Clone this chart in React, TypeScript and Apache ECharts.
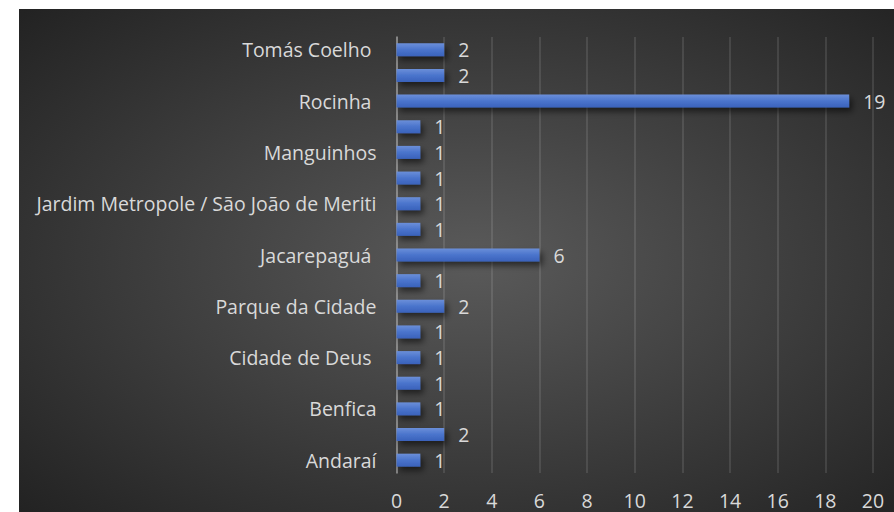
import React, { useEffect, useRef } from "react";
import * as echarts from "echarts";

const categories: string[] = [
  "Andaraí",
  "(oculto 1)",
  "Benfica",
  "(oculto 2)",
  "Cidade de Deus ",
  "(oculto 3)",
  "Parque da Cidade",
  "(oculto 4)",
  "Jacarepaguá ",
  "(oculto 5)",
  "Jardim Metropole / São João de Meriti",
  "(oculto 6)",
  "Manguinhos",
  "(oculto 7)",
  "Rocinha ",
  "(oculto 8)",
  "Tomás Coelho ",
];

const values: number[] = [1, 2, 1, 1, 1, 1, 2, 1, 6, 1, 1, 1, 1, 1, 19, 2, 2];

const xTicks = { min: 0, max: 20, interval: 2 };

export default function App() {
  const ref = useRef<HTMLDivElement>(null);
  useEffect(() => {
    if (!ref.current) return;
    const chart = echarts.init(ref.current, null, { renderer: "svg" });
    const font = "'Open Sans', sans-serif";
    const fs = 19.5;
    chart.setOption({
      animation: false,
      backgroundColor: {
        type: "radial",
        x: 0.52,
        y: 0.5,
        r: 0.75,
        colorStops: [
          { offset: 0, color: "#5a5a5a" },
          { offset: 1, color: "#202020" },
        ],
      },
      grid: { left: 377.5, right: 21, top: 28, bottom: 39, containLabel: false },
      xAxis: {
        type: "value",
        min: xTicks.min,
        max: xTicks.max,
        interval: xTicks.interval,
        axisLine: { show: false },
        axisTick: { show: false },
        splitLine: { show: true, lineStyle: { color: "rgba(255,255,255,0.14)", width: 1.5 } },
        axisLabel: { color: "#d9d9d9", fontSize: fs, fontFamily: font, margin: 17 },
      },
      yAxis: {
        type: "category",
        data: categories,
        axisLine: { show: true, lineStyle: { color: "#9a9a9a", width: 1.5 } },
        axisTick: { show: false },
        splitLine: { show: false },
        axisLabel: {
          interval: 1,
          color: "#d9d9d9",
          fontSize: fs,
          fontFamily: font,
          margin: 20,
        },
      },
      series: [
        {
          type: "bar",
          data: values,
          barWidth: 13,
          itemStyle: {
            color: {
              type: "linear",
              x: 0,
              y: 0,
              x2: 0,
              y2: 1,
              colorStops: [
                { offset: 0, color: "#6b8fd9" },
                { offset: 0.5, color: "#4a74cc" },
                { offset: 1, color: "#3a62bb" },
              ],
            },
            shadowColor: "rgba(0,0,0,0.55)",
            shadowBlur: 6,
            shadowOffsetX: 3,
            shadowOffsetY: 4,
          },
          label: {
            show: true,
            position: "right",
            distance: 14,
            color: "#d9d9d9",
            fontSize: fs,
            fontFamily: font,
          },
        },
      ],
    });
    return () => chart.dispose();
  }, []);
  return (
    <div
      ref={ref}
      style={{ position: "absolute", left: 19, top: 9, width: 875, height: 503 }}
    />
  );
}
